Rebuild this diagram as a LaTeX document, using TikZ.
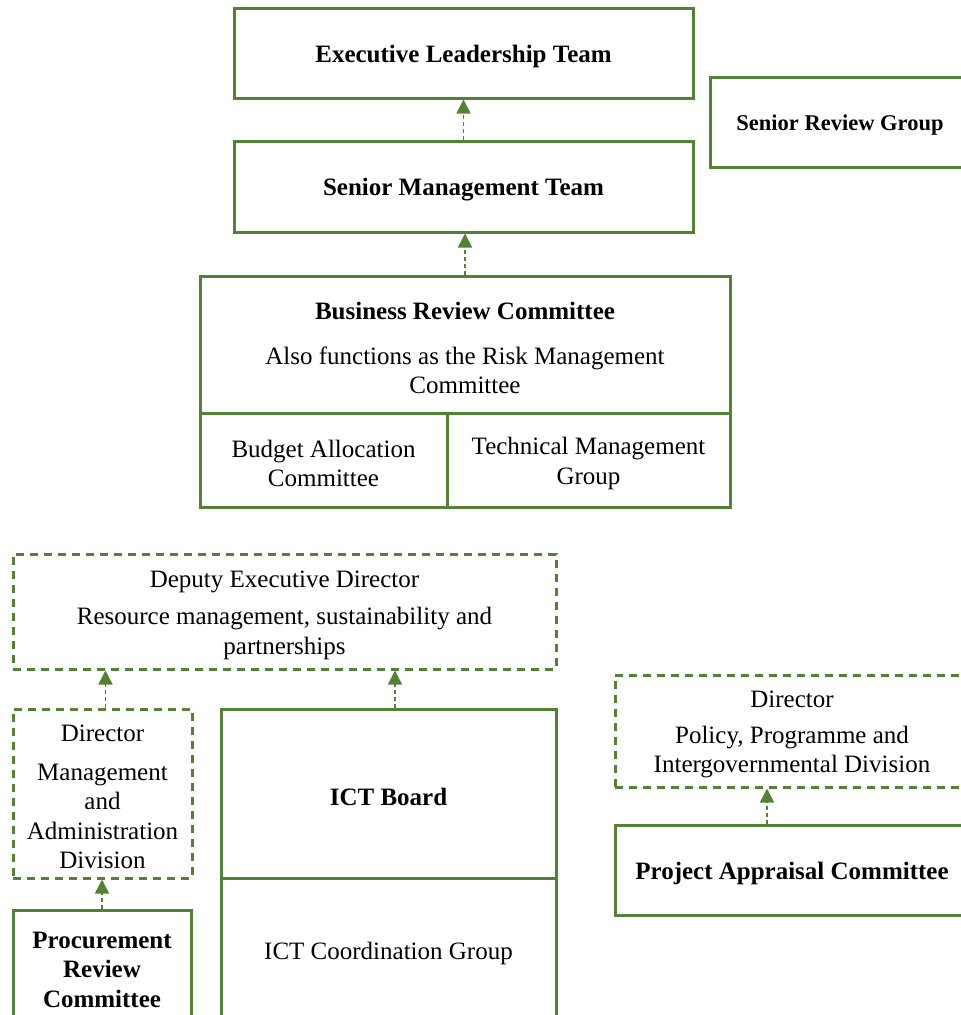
\documentclass[tikz,border=0pt]{standalone}
\usepackage{fontspec}
\setmainfont{Liberation Serif}
\usetikzlibrary{arrows.meta}
\definecolor{boxgreen}{HTML}{548235}
\begin{document}
\begin{tikzpicture}[x=1pt,y=-1pt,
  lbl/.style={font=\fontsize{25}{29.5}\selectfont, align=center, inner sep=0pt, yshift=-3.5pt},
  solidbox/.style={draw=boxgreen, line width=3pt, rectangle, inner sep=0pt},
  dashbox/.style={draw=boxgreen, line width=3pt, rectangle, inner sep=0pt, dash pattern=on 8pt off 6pt},
  txt/.style={label={[lbl]center:{#1}}},
  link/.style={draw=boxgreen, line width=1.5pt, dash pattern=on 4pt off 3pt,
    -{Triangle[width=14pt,length=14pt,fill=boxgreen]}},
]
\useasboundingbox (0,0) rectangle (961,1015);
\clip (0,0) rectangle (961,1015);

% Top of the structure
\node[solidbox, minimum width=459pt, minimum height=90pt,
  txt={\textbf{Executive Leadership Team}}] (elt) at (463.5,53) {};
\node[solidbox, minimum width=260pt, minimum height=90pt,
  txt={\fontsize{22.5}{27}\selectfont\textbf{Senior Review Group}}] (srg) at (840,122) {};
\node[solidbox, minimum width=459pt, minimum height=91pt,
  txt={\textbf{Senior Management Team}}] (smt) at (463.5,186.5) {};

% Business Review Committee with its two sub-committees
\node[solidbox, minimum width=530pt, minimum height=137pt,
  txt={\textbf{Business Review Committee}\\[15pt]
       Also functions as the Risk Management\\ Committee}] (brc) at (465,344.5) {};
\node[solidbox, minimum width=247pt, minimum height=94pt,
  txt={Budget Allocation\\ Committee}] (bac) at (323.5,460) {};
\node[solidbox, minimum width=283pt, minimum height=94pt,
  txt={Technical Management\\ Group}] (tmg) at (588.5,460) {};

% Deputy Executive Director branch
\node[dashbox, minimum width=543pt, minimum height=115pt,
  txt={Deputy Executive Director\\[8pt]
       Resource management, sustainability and\\ partnerships}] (ded) at (284.5,611.5) {};
\node[dashbox, minimum width=179pt, minimum height=169pt,
  txt={\fontsize{25}{28}\selectfont Director\\[9pt] Management\\ and\\ Administration\\ Division}] (mad) at (102.5,793.5) {};
\node[solidbox, minimum width=335pt, minimum height=169pt,
  txt={\textbf{ICT Board}}] (ictb) at (388.5,793.5) {};
\node[solidbox, minimum width=335pt, minimum height=144pt,
  txt={ICT Coordination Group}] (ictc) at (388.5,950) {};
\node[solidbox, minimum width=178pt, minimum height=112pt,
  txt={\textbf{Procurement}\\ \textbf{Review}\\ \textbf{Committee}}] (prc) at (102,966) {};

% Policy, Programme and Intergovernmental Division branch
\node[dashbox, minimum width=354pt, minimum height=112pt,
  txt={Director\\[6pt] Policy, Programme and\\ Intergovernmental Division}] (ppid) at (792,731) {};
\node[solidbox, minimum width=354pt, minimum height=90pt,
  txt={\textbf{Project Appraisal Committee}}] (pac) at (792,870) {};

% Reporting lines
\draw[link] (smt.north) -- (elt.south);
\draw[link] (brc.north) -- (brc.north |- smt.south);
\draw[link] ([xshift=3pt]mad.north) -- ([xshift=3pt]mad.north |- ded.south);
\draw[link] ([xshift=6.5pt]ictb.north) -- ([xshift=6.5pt]ictb.north |- ded.south);
\draw[link] (prc.north) -- (prc.north |- mad.south);
\draw[link] ([xshift=-25pt]pac.north) -- ([xshift=-25pt]pac.north |- ppid.south);
\end{tikzpicture}
\end{document}
